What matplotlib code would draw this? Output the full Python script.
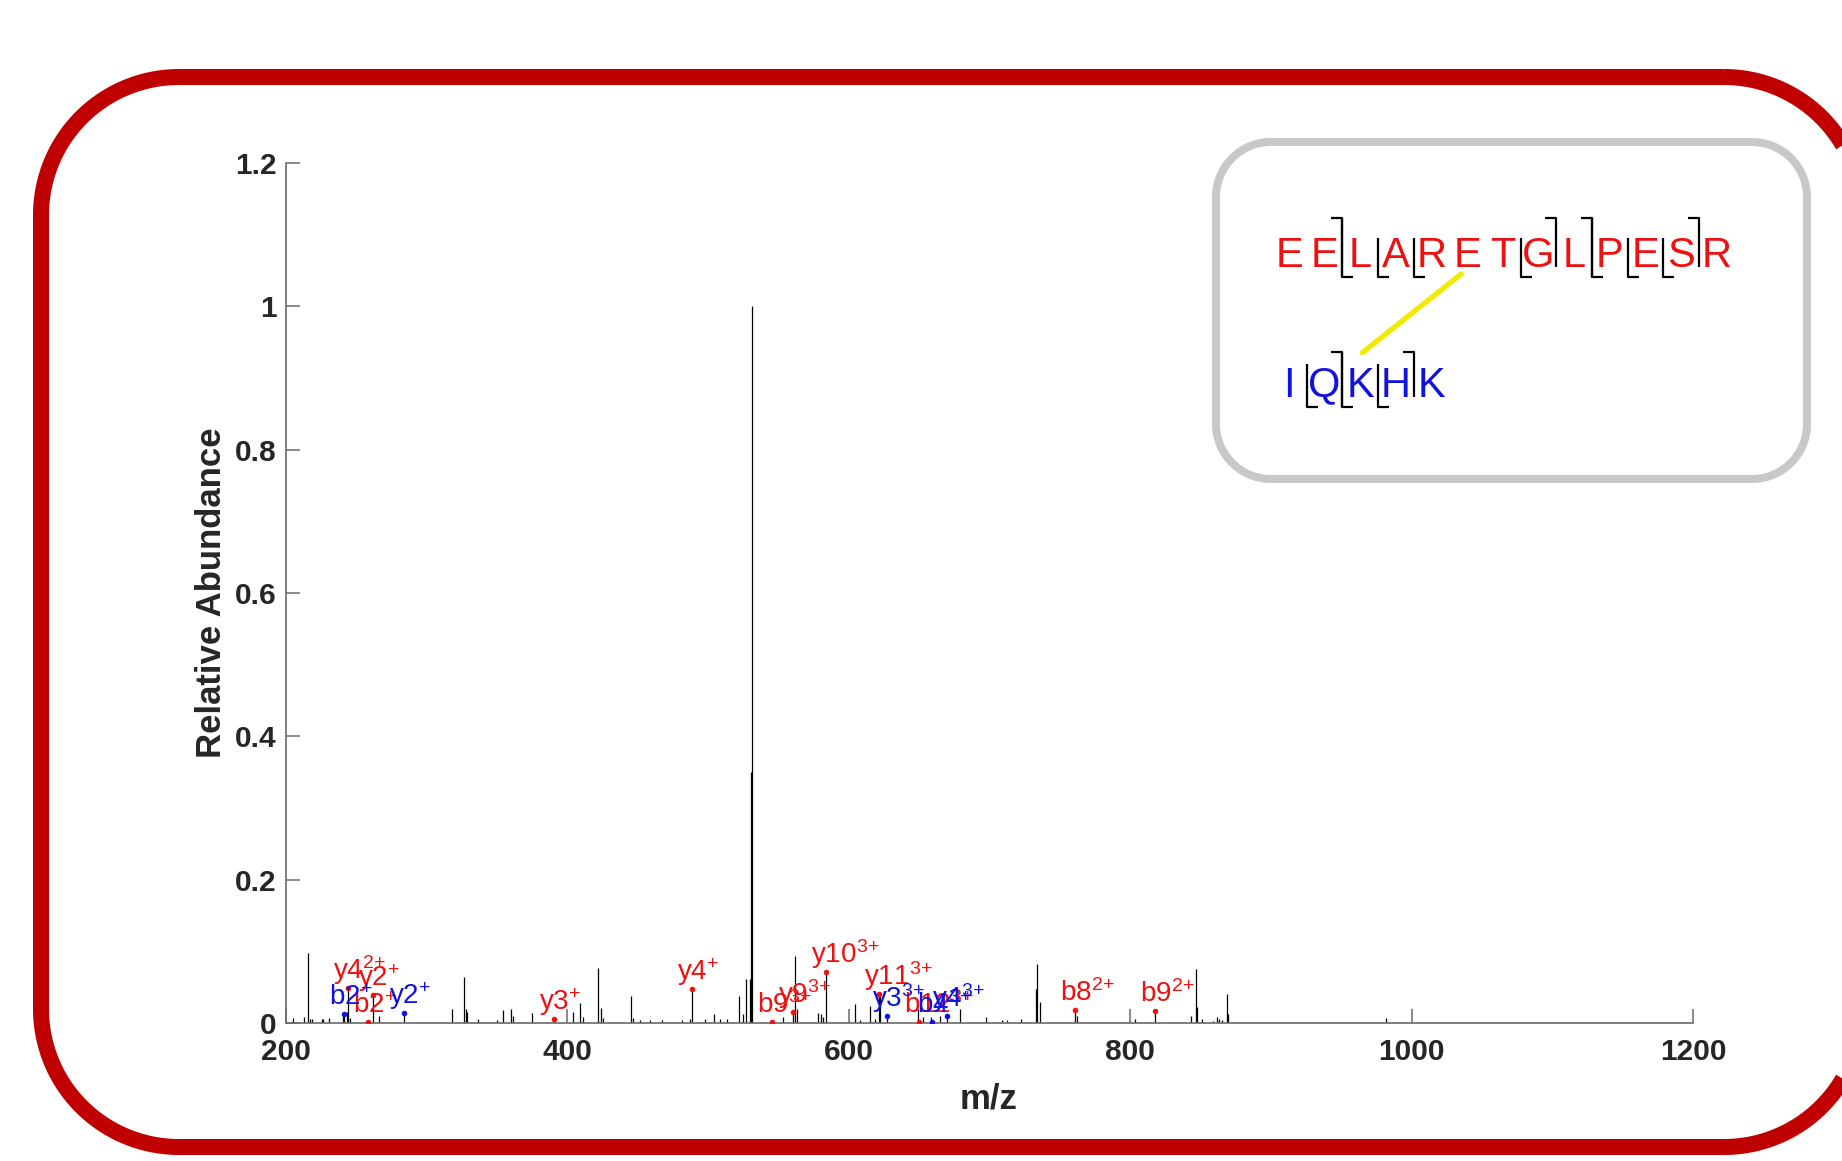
import matplotlib
matplotlib.use("Agg")
import numpy as np
import matplotlib.pyplot as plt
from matplotlib.patches import FancyBboxPatch, PathPatch
from matplotlib.path import Path

plt.rcParams['font.family'] = ['Liberation Sans', 'DejaVu Sans']
plt.rcParams['mathtext.fontset'] = 'custom'
plt.rcParams['mathtext.rm'] = 'Liberation Sans'
plt.rcParams['mathtext.it'] = 'Liberation Sans:italic'
plt.rcParams['mathtext.bf'] = 'Liberation Sans:bold'

# ---------------- data ----------------
peak_mz = [204.8, 212.8, 215.4, 217.0, 218.3, 225.4, 226.5, 230.8, 240.7, 241.5,
           243.1, 244.3, 245.5, 258.5, 261.6, 265.9, 283.9, 317.8, 326.7, 327.7,
           328.9, 336.2, 349.7, 354.0, 359.9, 361.6, 374.6, 390.7, 404.2, 409.0,
           410.9, 422.0, 423.7, 425.5, 445.0, 446.4, 451.6, 458.7, 467.0, 481.2,
           487.1, 488.3, 497.8, 504.2, 508.5, 513.2, 522.2, 524.6, 526.7, 529.5,
           530.8, 531.2, 545.2, 553.0, 560.1, 561.8, 563.0, 578.3, 580.0, 581.9,
           583.8, 604.4, 608.0, 614.8, 618.6, 621.7, 622.5, 627.4, 648.9, 649.6,
           653.0, 658.4, 658.9, 664.8, 670.0, 679.0, 697.5, 708.7, 712.2, 722.4,
           732.8, 733.5, 735.9, 760.8, 762.0, 803.6, 817.4, 843.4, 846.5, 847.2,
           850.8, 858.6, 861.9, 863.3, 865.0, 868.6, 869.7, 875.7, 881.6, 888.0,
           923.5, 953.9, 981.8, 1012.6, 1083.0]
peak_int = [0.007, 0.008, 0.098, 0.006, 0.005, 0.006, 0.005, 0.007, 0.012, 0.0126,
            0.015, 0.049, 0.007, 0.001, 0.039, 0.010, 0.0144, 0.020, 0.064, 0.020,
            0.015, 0.005, 0.004, 0.018, 0.020, 0.010, 0.014, 0.005, 0.015, 0.028,
            0.008, 0.077, 0.021, 0.007, 0.037, 0.007, 0.004, 0.004, 0.004, 0.004,
            0.006, 0.048, 0.005, 0.013, 0.005, 0.005, 0.038, 0.012, 0.061, 0.062,
            0.35, 1.0, 0.002, 0.009, 0.015, 0.093, 0.020, 0.014, 0.012, 0.008,
            0.071, 0.026, 0.004, 0.024, 0.005, 0.040, 0.042, 0.0098, 0.019, 0.002,
            0.009, 0.008, 0.002, 0.010, 0.010, 0.019, 0.008, 0.004, 0.004, 0.005,
            0.047, 0.083, 0.030, 0.018, 0.010, 0.005, 0.017, 0.010, 0.075, 0.022,
            0.006, 0.003, 0.008, 0.006, 0.004, 0.041, 0.012, 0.002, 0.002, 0.002,
            0.001, 0.001, 0.007, 0.002, 0.002]

alpha_labels = [r'y4$^{2\!+}$', r'y2$^{+}$', r'b2$^{+}$', r'y3$^{+}$', r'y4$^{+}$',
                r'b9$^{3\!+}$', r'y9$^{3\!+}$', r'y10$^{3\!+}$', r'y11$^{3\!+}$',
                r'b12$^{3\!+}$', r'b8$^{2\!+}$', r'b9$^{2\!+}$']
alpha_mz = [244.3, 261.6, 258.5, 390.7, 488.3, 545.2, 560.1, 583.8, 621.7, 649.6, 760.8, 817.4]
alpha_int = [0.049, 0.039, 0.001, 0.005, 0.048, 0.002, 0.015, 0.071, 0.040, 0.002, 0.018, 0.017]

beta_labels = [r'b2$^{+}$', r'y2$^{+}$', r'y3$^{3\!+}$', r'b4$^{3\!+}$', r'y4$^{3\!+}$']
beta_mz = [241.5, 283.9, 627.4, 658.9, 670.0]
beta_int = [0.0126, 0.0144, 0.0098, 0.002, 0.010]

alpha_seq = list("EELARETGLPESR")
beta_seq = list("IQKHK")
alpha_b_sites = [2, 8, 9, 12]            # top brackets
alpha_y_sites = [2, 3, 4, 7, 9, 10, 11]  # bottom brackets
beta_b_sites = [2, 4]
beta_y_sites = [1, 2, 3]
link_alpha = 6   # E6
link_beta = 3    # K3

x_ticks = [200, 400, 600, 800, 1000, 1200]
y_ticks = [0, 0.2, 0.4, 0.6, 0.8, 1.0, 1.2]
y_ticklabels = ['0', '0.2', '0.4', '0.6', '0.8', '1', '1.2']

RED = '#ee1111'
BLUE = '#1212e0'
FRAME = '#c00000'
GRAY = '#c8c8c8'

# ---------------- figure ----------------
W, H = 1842, 1161
fig = plt.figure(figsize=(W / 100, H / 100), dpi=100)
fig.patch.set_facecolor('white')

ax = fig.add_axes([286 / W, (H - 1023) / H, 1407 / W, 860 / H])
ax.set_facecolor('none')
ax.vlines(peak_mz, 0, peak_int, color='black', lw=0.9, zorder=2)
ax.plot(alpha_mz, alpha_int, 'o', ms=4, color=RED, mec='none', zorder=3)
ax.plot(beta_mz, beta_int, 'o', ms=4, color=BLUE, mec='none', zorder=3)

for lab, x, y in zip(alpha_labels, alpha_mz, alpha_int):
    ax.annotate(lab, xy=(x, y), xytext=(-10.8, 6.5), textcoords='offset points',
                ha='left', va='baseline', color=RED, fontsize=20, zorder=4)
for lab, x, y in zip(beta_labels, beta_mz, beta_int):
    ax.annotate(lab, xy=(x, y), xytext=(-10.8, 6.5), textcoords='offset points',
                ha='left', va='baseline', color=BLUE, fontsize=20, zorder=4)

ax.set_xlim(200, 1200)
ax.set_ylim(0, 1.2)
ax.set_xticks(x_ticks)
ax.set_xticklabels([str(t) for t in x_ticks])
ax.set_yticks(y_ticks)
ax.set_yticklabels(y_ticklabels)
for s in ['top', 'right']:
    ax.spines[s].set_visible(False)
for s in ['left', 'bottom']:
    ax.spines[s].set_color('#6a6a6a')
    ax.spines[s].set_linewidth(1.2)
ax.tick_params(axis='both', direction='in', length=10, width=1.1, color='#6a6a6a',
               labelsize=21.5, labelcolor='#262626')
ax.tick_params(axis='y', pad=6.5)
ax.tick_params(axis='x', pad=11)
for t in ax.get_xticklabels() + ax.get_yticklabels():
    t.set_fontweight('bold')

fig.text(989 / W, 1 - 1099 / H, 'm/z', ha='center', va='center',
         fontsize=25, fontweight='bold', color='#262626')
fig.text(211 / W, 1 - 593 / H, 'Relative Abundance', ha='center', va='center',
         rotation=90, fontsize=25, fontweight='bold', color='#262626')

# ---------------- overlay (frame + peptide inset) ----------------
ov = fig.add_axes([0, 0, 1, 1], zorder=5)
ov.set_xlim(0, W)
ov.set_ylim(H, 0)
ov.axis('off')
ov.patch.set_alpha(0)


def rounded_rect(left, top, right, bottom, r, n=40):
    pts = []
    corners = [(right - r, top + r, -90, 0),      # top-right
               (right - r, bottom - r, 0, 90),    # bottom-right
               (left + r, bottom - r, 90, 180),   # bottom-left
               (left + r, top + r, 180, 270)]     # top-left
    for cx, cy, a0, a1 in corners:
        t = np.radians(np.linspace(a0, a1, n))
        pts.extend(zip(cx + r * np.cos(t), cy + r * np.sin(t)))
    pts.append(pts[0])
    return Path(pts)


ov.add_patch(PathPatch(rounded_rect(41, 77, 1862, 1147, 138), fc='none',
                       ec=FRAME, lw=16 * 0.72, joinstyle='round'))
ov.add_patch(PathPatch(rounded_rect(1216, 142, 1807, 479, 55), fc='white',
                       ec=GRAY, lw=8 * 0.72, joinstyle='round'))

x0, step = 1289, 35.65
a_base, a_top, a_bot, a_cap = 266.7, 218.3, 276.7, 238
b_base, b_top, b_bot, b_cap = 396.7, 351.7, 406.7, 364
hook = 11

ov.plot([x0 + (link_alpha - 1) * step - 6, x0 + (link_beta - 1) * step + 2],
        [274, 352.7], color='#f2ea00', lw=3.8, solid_capstyle='round', zorder=3)

for i, aa in enumerate(alpha_seq):
    ov.text(x0 + i * step, a_base, aa, ha='center', va='baseline',
            fontsize=30, color=RED, zorder=4)
for i, aa in enumerate(beta_seq):
    ov.text(x0 + i * step, b_base, aa, ha='center', va='baseline',
            fontsize=30, color=BLUE, zorder=4)


def brackets(bsites, ysites, top, bot, base, cap):
    for g in sorted(set(bsites) | set(ysites)):
        x = x0 + (g - 0.5) * step
        both = g in bsites and g in ysites
        if g in bsites:
            ov.plot([x - hook, x, x], [top, top, bot if both else base],
                    color='black', lw=1.6, zorder=5, solid_capstyle='butt')
        if g in ysites:
            ov.plot([x, x, x + hook], [top if both else cap, bot, bot],
                    color='black', lw=1.6, zorder=5, solid_capstyle='butt')


brackets(alpha_b_sites, alpha_y_sites, a_top, a_bot, a_base, a_cap)
brackets(beta_b_sites, beta_y_sites, b_top, b_bot, b_base, b_cap)

fig.savefig('out.png', dpi=100, facecolor='white')
